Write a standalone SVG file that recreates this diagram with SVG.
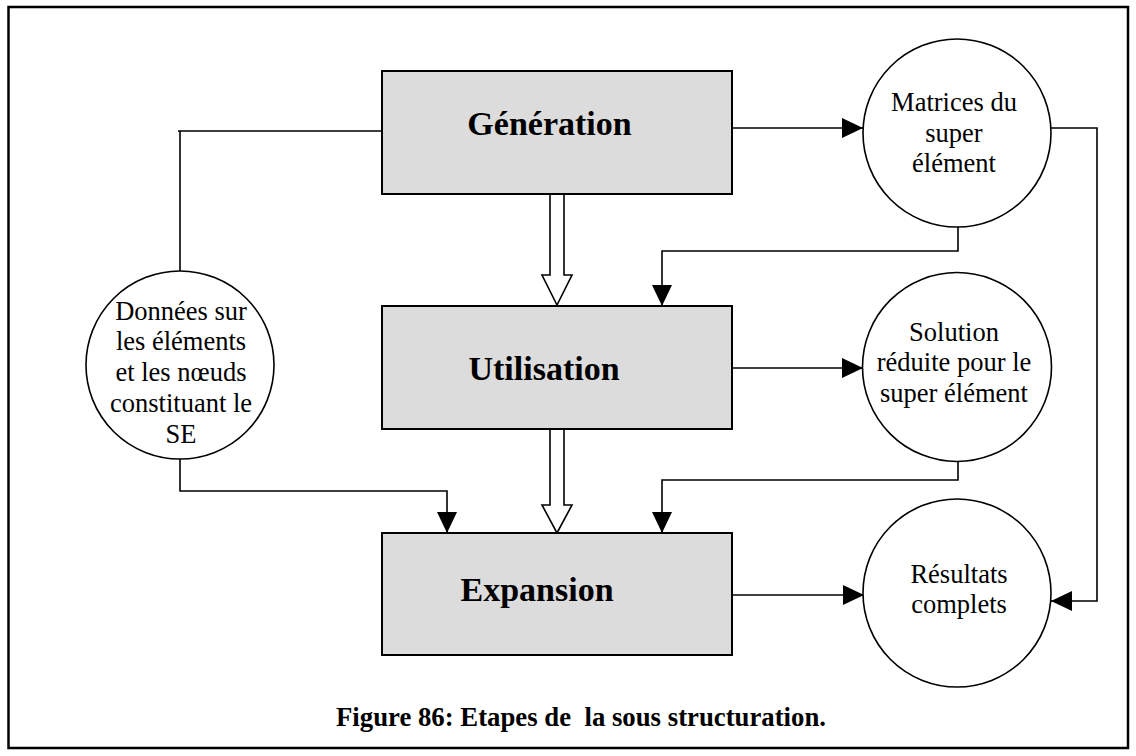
<svg xmlns="http://www.w3.org/2000/svg" width="1136" height="756" viewBox="0 0 1136 756">
<style>
.box{fill:#dcdcdc;stroke:#000;stroke-width:2}
.circ{fill:#fff;stroke:#000;stroke-width:1.6}
.line{fill:none;stroke:#000;stroke-width:1.6}
.hollow{fill:#fff;stroke:#000;stroke-width:1.6;stroke-linejoin:miter}
.bt{font-family:"Liberation Serif","Times New Roman",serif;font-weight:bold;font-size:34px;text-anchor:middle;fill:#000}
.ct{font-family:"Liberation Serif","Times New Roman",serif;font-size:26.5px;text-anchor:middle;fill:#000}
.cap{font-family:"Liberation Serif","Times New Roman",serif;font-weight:bold;font-size:28px;fill:#000}
</style>
<defs>
<marker id="ah" markerUnits="userSpaceOnUse" markerWidth="22" markerHeight="22" refX="21" refY="10" orient="auto" viewBox="0 0 22 20">
<path d="M0,0 L21,10 L0,20 z" fill="#000"/>
</marker>
</defs>
<rect x="8.5" y="7" width="1119.5" height="741" fill="#fff" stroke="#000" stroke-width="2.5"/>
<g id="connectors">
<path class="line" d="M732,128 H863" marker-end="url(#ah)"/>
<path class="line" d="M382,131 H178 M180,131 V271"/>
<path class="line" d="M958,227 V251 H662 V306" marker-end="url(#ah)"/>
<path class="line" d="M1051,128 H1097 V601 H1051" marker-end="url(#ah)"/>
<path class="line" d="M732,368 H863" marker-end="url(#ah)"/>
<path class="line" d="M958,462 V480 H662 V533" marker-end="url(#ah)"/>
<path class="line" d="M180,459 V491 H447 V533" marker-end="url(#ah)"/>
<path class="line" d="M732,595 H864" marker-end="url(#ah)"/>
<polygon class="hollow" points="550,194 564,194 564,275 572,275 557,305 542,275 550,275"/>
<polygon class="hollow" points="550,429 564,429 564,505 572,505 557,533 542,505 550,505"/>
</g>
<g id="generation">
<rect class="box" x="382" y="71" width="350" height="123"/>
<text class="bt" x="549.5" y="135">Génération</text>
</g>
<g id="utilisation">
<rect class="box" x="382" y="306" width="350" height="123"/>
<text class="bt" x="544" y="380">Utilisation</text>
</g>
<g id="expansion">
<rect class="box" x="382" y="533" width="350" height="122"/>
<text class="bt" x="537" y="601">Expansion</text>
</g>
<g id="matrices">
<circle class="circ" cx="957" cy="133" r="94"/>
<text class="ct" x="954" y="111">Matrices du</text>
<text class="ct" x="954" y="141.5">super</text>
<text class="ct" x="954" y="172">élément</text>
</g>
<g id="solution">
<circle class="circ" cx="957" cy="367" r="94.5"/>
<text class="ct" x="954" y="341">Solution</text>
<text class="ct" x="954" y="371">réduite pour le</text>
<text class="ct" x="954" y="401.5">super élément</text>
</g>
<g id="resultats">
<circle class="circ" cx="957" cy="593" r="94"/>
<text class="ct" x="959" y="583">Résultats</text>
<text class="ct" x="959" y="613">complets</text>
</g>
<g id="donnees">
<circle class="circ" cx="180" cy="365" r="94"/>
<text class="ct" x="181" y="320">Données sur</text>
<text class="ct" x="181" y="350">les éléments</text>
<text class="ct" x="181" y="381">et les nœuds</text>
<text class="ct" x="181" y="411.5">constituant le</text>
<text class="ct" x="181" y="443">SE</text>
</g>
<text class="cap" x="336" y="726" textLength="490" lengthAdjust="spacingAndGlyphs" xml:space="preserve">Figure 86: Etapes de  la sous structuration.</text>
</svg>
